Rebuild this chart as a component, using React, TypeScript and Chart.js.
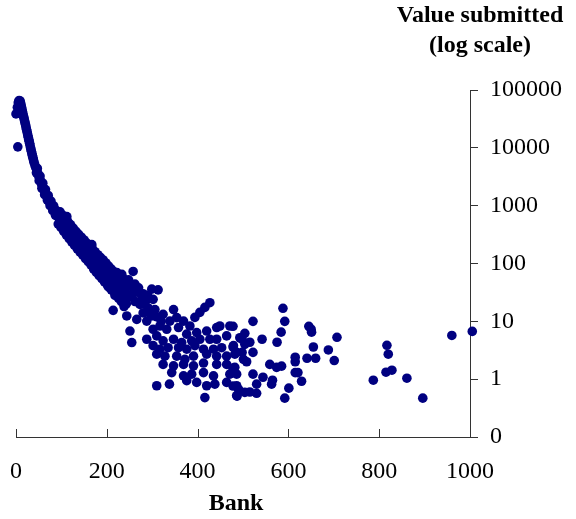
import React, { useEffect, useRef } from "react";
import { Chart, registerables } from "chart.js";

Chart.register(...registerables);

// ---- Data (bank rank on x, value submitted on log y) ----
const headRank = [0, 3, 4, 5, 6, 7, 8, 9, 10, 11, 12, 13, 14, 15, 16, 17, 18, 19, 20, 21, 22, 23, 24, 25, 26, 27, 28, 29, 30, 31, 32, 33, 34, 35, 36, 37, 38, 39, 40, 42, 44, 46, 48, 50, 52, 54, 56, 58, 60, 62, 64, 66, 68, 70, 72, 74, 76, 78, 80, 82, 84, 86, 88, 90, 92, 94, 96, 98];
const headValue = [38600, 50000, 10400, 60000, 63000, 66000, 62000, 64600, 60000, 55000, 51000, 47000, 43000, 39500, 36000, 34000, 31500, 29000, 27000, 25000, 23000, 21000, 19500, 18000, 16500, 15200, 14000, 13000, 12000, 11000, 10000, 9300, 8600, 8000, 7400, 6900, 6400, 5900, 5500, 4900, 4500, 4000, 3600, 3250, 2950, 2650, 2400, 2200, 2000, 1850, 1700, 1580, 1450, 1350, 1250, 1150, 1070, 1000, 930, 870, 820, 780, 740, 700, 660, 620, 590, 560];

const curveRank = [100, 103, 106, 109, 112, 115, 118, 121, 124, 127, 130, 133, 136, 139, 142, 145, 148, 151, 154, 157, 160, 163, 166, 169, 172, 175, 178, 181, 184, 187, 190, 193, 196, 199, 202, 205, 208, 211, 214, 217, 220, 223, 226, 229, 232, 235, 238, 241, 244];
const curveValue = [530, 490, 455, 425, 400, 378, 356, 336, 316, 298, 280, 262, 245, 230, 215, 202, 190, 178, 167, 157, 147, 138, 129, 121, 113, 106, 99, 93, 87, 82, 77, 73, 69, 65, 62, 59, 56, 53, 50, 47, 45, 43, 41, 39, 37, 35, 33, 31, 30];

const upperRank = [47, 53, 59, 65, 71, 77, 83, 89, 97, 102, 108, 112, 114, 120, 126, 132, 138, 144, 150, 156, 162, 167, 168, 174, 180, 186, 192, 198, 204, 210, 216, 222, 228, 234, 240];
const upperValue = [4400, 3250, 2450, 1900, 1500, 1200, 990, 820, 780, 690, 600, 646, 530, 470, 410, 360, 320, 285, 255, 225, 200, 212, 180, 160, 142, 128, 115, 102, 90, 80, 72, 65, 58, 52, 47];

const lowerRank = [45, 51, 57, 63, 69, 75, 81, 87, 93, 99, 105, 111, 117, 123, 129, 135, 141, 147, 153, 159, 165, 171, 177, 183, 189, 195, 201, 207, 213, 214, 219, 225, 231, 237, 243];
const lowerValue = [3700, 2700, 2000, 1550, 1250, 1000, 820, 680, 480, 420, 360, 310, 270, 235, 205, 180, 158, 140, 122, 108, 95, 80, 70, 62, 55, 48, 43, 38, 34, 15.5, 30, 27, 24, 22, 20];

const clusterRank = [203, 210, 218, 222, 226, 232, 236, 238, 240, 248, 258, 258, 262, 270, 275, 280, 284, 290, 294, 310, 320];
const clusterValue = [40, 35, 28, 70, 25, 22, 55, 18, 38, 52, 72.8, 30, 44, 38, 21, 30, 20, 28, 14, 12, 10];

const cloudRank = [233, 244, 255, 266, 277, 251, 262, 273, 288, 299, 313, 302, 291, 306, 280, 244, 266, 288, 299, 324, 347, 354, 369, 339, 317, 302, 332, 358, 383, 394, 405, 416, 427, 398, 376, 420, 442, 449, 471, 251, 255, 288, 310, 324, 347, 365, 387, 405, 427, 442, 464, 493, 302, 317, 335, 358, 376, 394, 413, 435, 453, 479, 504, 310, 328, 354, 372, 391, 420, 442, 464, 486, 501, 324, 347, 369, 391, 413, 442, 464, 482, 343, 369, 387, 413, 435, 471, 376, 398, 420, 438, 464, 486, 504, 486, 416, 310, 338];
const cloudValue = [65, 46, 41, 33, 27, 27, 22, 19.6, 24, 36, 35, 24, 17, 16, 14, 12.4, 10.8, 10.1, 12.4, 13.2, 16, 11.6, 10.1, 10.1, 8.3, 7.3, 7.3, 7.8, 8.3, 11.7, 14.3, 17.4, 21, 6.4, 6.0, 6.8, 7.8, 8.3, 8.3, 6.8, 4.3, 4.9, 5.6, 4.6, 4.9, 4.3, 4.6, 4.9, 4.9, 4.9, 5.6, 5.2, 3.8, 3.3, 3.5, 3.5, 3.3, 3.8, 3.3, 3.3, 3.5, 3.8, 4.0, 2.7, 2.5, 2.5, 2.2, 2.5, 2.7, 2.5, 2.5, 2.9, 2.2, 1.8, 1.7, 1.8, 1.7, 1.9, 1.8, 1.8, 1.6, 1.3, 1.14, 1.22, 1.3, 1.14, 1.22, 0.94, 0.88, 0.77, 0.82, 0.88, 0.77, 0.59, 0.52, 0.48, 0.77, 0.82];

const midRank = [588, 592, 522, 478, 584, 504, 498, 542, 575, 515, 478, 482, 498, 522, 508, 615, 615, 559, 574, 585, 478, 486, 522, 544, 565, 615, 621, 563, 530, 478, 490, 515, 530, 487, 601, 592];
const midValue = [16.8, 10, 10, 8.2, 6.5, 6.2, 4.9, 4.9, 4.35, 4.35, 3.6, 2.7, 2.9, 2.9, 2.0, 2.4, 2.0, 1.8, 1.6, 1.68, 1.55, 1.22, 1.22, 1.08, 0.96, 1.3, 1.3, 0.82, 0.82, 0.76, 0.67, 0.6, 0.57, 0.51, 0.7, 0.47];

const tailRank = [645, 650, 651, 707, 655, 688, 641, 660, 701, 629, 817, 820, 815, 828, 787, 861, 896, 960, 1005];
const tailValue = [8.2, 7.3, 6.5, 5.3, 3.6, 3.2, 2.3, 2.3, 2.1, 0.92, 3.85, 2.7, 1.32, 1.43, 0.96, 1.04, 0.47, 5.7, 6.7];

const xTickValues = [0, 200, 400, 600, 800, 1000];
const xTickLabels = ["0", "200", "400", "600", "800", "1000"];
const yTickValues = [0.1, 1, 10, 100, 1000, 10000, 100000];
const yTickLabels = ["0", "1", "10", "100", "1000", "10000", "100000"];
const xTitle = "Bank";
const yTitleLines = ["Value submitted", "(log scale)"];

const FONT = '"Liberation Serif", "Times New Roman", serif';
const AXIS_COLOR = "#333333";
const DOT_COLOR = "#000080";

function pairs(xs: number[], ys: number[]) {
  return xs.map((x, i) => ({ x, y: ys[i] }));
}

const decorPlugin = {
  id: "decor",
  afterDraw(chart: any) {
    const { ctx, chartArea, scales } = chart;
    const xs = scales.x;
    ctx.save();
    ctx.strokeStyle = AXIS_COLOR;
    ctx.lineWidth = 1;
    for (const v of xTickValues) {
      const px = Math.round(xs.getPixelForValue(v)) + 0.5;
      ctx.beginPath();
      ctx.moveTo(px, chartArea.bottom);
      ctx.lineTo(px, chartArea.bottom - 8);
      ctx.stroke();
    }
    ctx.fillStyle = "#000";
    ctx.font = `bold 24px ${FONT}`;
    ctx.textAlign = "center";
    ctx.textBaseline = "middle";
    ctx.fillText(yTitleLines[0], chartArea.right + 10, 16);
    ctx.fillText(yTitleLines[1], chartArea.right + 10, 46);
    ctx.fillText(xTitle, chartArea.left + 220, 504);
    ctx.restore();
  },
};

export default function App() {
  const ref = useRef<HTMLCanvasElement | null>(null);
  useEffect(() => {
    document.body.style.margin = "0";
    if (!ref.current) return;
    const data = [
      ...pairs(headRank, headValue),
      ...pairs(curveRank, curveValue),
      ...pairs(upperRank, upperValue),
      ...pairs(lowerRank, lowerValue),
      ...pairs(clusterRank, clusterValue),
      ...pairs(cloudRank, cloudValue),
      ...pairs(midRank, midValue),
      ...pairs(tailRank, tailValue),
    ];
    const chart = new Chart(ref.current, {
      type: "scatter",
      data: {
        datasets: [
          {
            data,
            backgroundColor: DOT_COLOR,
            borderColor: DOT_COLOR,
            borderWidth: 0,
            pointRadius: 4.8,
            clip: false as any,
          },
        ],
      },
      options: {
        animation: false,
        responsive: false,
        devicePixelRatio: 1,
        layout: { padding: { left: 16, top: 90, right: 0, bottom: 0 } },
        plugins: { legend: { display: false }, tooltip: { enabled: false } },
        scales: {
          x: {
            type: "linear",
            min: 0,
            max: 1000,
            afterFit: (s: any) => {
              s.height = 82;
              s.paddingLeft = 0;
              s.paddingRight = 0;
            },
            afterBuildTicks: (s: any) => {
              s.ticks = xTickValues.map((v) => ({ value: v }));
            },
            grid: { display: false, drawTicks: false },
            border: { display: true, color: AXIS_COLOR, width: 1 },
            ticks: {
              color: "#000",
              font: { family: FONT, size: 24 },
              padding: 20,
              maxRotation: 0,
              callback: (v: any) => {
                const i = xTickValues.indexOf(Number(v));
                return i >= 0 ? xTickLabels[i] : "";
              },
            },
          },
          y: {
            type: "logarithmic",
            position: "right",
            min: 0.1,
            max: 100000,
            afterFit: (s: any) => {
              s.width = 106;
              s.paddingTop = 0;
              s.paddingBottom = 0;
            },
            afterBuildTicks: (s: any) => {
              s.ticks = yTickValues.map((v) => ({ value: v }));
            },
            grid: {
              display: true,
              drawOnChartArea: false,
              drawTicks: true,
              tickLength: 8,
              color: AXIS_COLOR,
            },
            border: { display: true, color: AXIS_COLOR, width: 1 },
            ticks: {
              color: "#000",
              font: { family: FONT, size: 24 },
              padding: 12,
              crossAlign: "near",
              callback: (v: any) => {
                const i = yTickValues.indexOf(Number(v));
                return i >= 0 ? yTickLabels[i] : "";
              },
            },
          },
        },
      },
      plugins: [decorPlugin],
    });
    return () => chart.destroy();
  }, []);
  return (
    <div style={{ width: 576, height: 519 }}>
      <canvas ref={ref} width={576} height={519} style={{ display: "block" }} />
    </div>
  );
}
